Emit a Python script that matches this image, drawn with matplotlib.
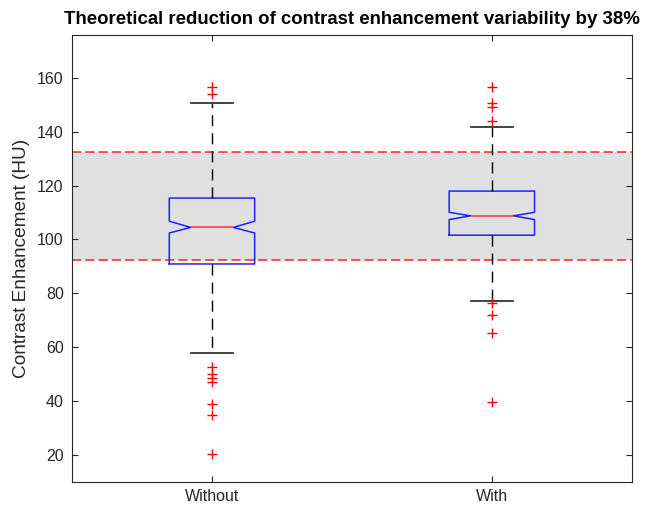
import matplotlib
matplotlib.use('Agg')
import matplotlib.pyplot as plt

plt.rcParams['font.family'] = ['Liberation Sans', 'DejaVu Sans']

# box statistics (HU)
groups = ['Without', 'With']
medians = [104.5, 108.8]
q1 = [90.9, 101.6]
q3 = [115.4, 118.0]
notch_lo = [102.4, 107.4]
notch_hi = [106.8, 110.1]
whisker_lo = [57.9, 77.0]
whisker_hi = [150.6, 141.8]
fliers_without = [156.7, 153.9, 52.5, 50.0, 48.5, 47.0, 38.8, 34.7, 20.2]
fliers_with = [156.7, 150.7, 149.1, 143.9, 76.3, 71.8, 65.2, 39.6]
band_lo, band_hi = 92.5, 132.5

fliers = [fliers_without, fliers_with]
stats = []
for i, g in enumerate(groups):
    stats.append(dict(label=g, med=medians[i], q1=q1[i], q3=q3[i],
                      cilo=notch_lo[i], cihi=notch_hi[i],
                      whislo=whisker_lo[i], whishi=whisker_hi[i],
                      fliers=fliers[i]))

fig = plt.figure(figsize=(6.46, 5.08), dpi=100)
ax = fig.add_axes([0.1115, 0.052, 0.8665, 0.879])

ax.axhspan(band_lo, band_hi, color='#e0e0e0', lw=0, zorder=0)
for yv in (band_lo, band_hi):
    ax.axhline(yv, color='#ff2020', lw=1.1, ls=(0, (6, 2.7)), zorder=1)

ax.bxp(stats, positions=[1, 2], widths=0.305, shownotches=True,
       boxprops=dict(color='#2020ff', lw=1.1),
       medianprops=dict(color='#ff3030', lw=1.1),
       whiskerprops=dict(color='black', lw=1.0, ls=(0, (8, 5))),
       capprops=dict(color='#333333', lw=1.3),
       flierprops=dict(marker='+', markeredgecolor='red', markersize=7.5, mew=1.0),
       capwidths=0.15, manage_ticks=False)

ax.set_xlim(0.5, 2.5)
ax.set_ylim(10, 176)
ax.set_xticks([1, 2])
ax.set_xticklabels(groups)
ax.set_yticks(range(20, 161, 20))
ax.tick_params(direction='in', top=True, right=True, length=4, labelsize=11.5,
               colors='#262626', pad=6)
ax.tick_params(axis='x', pad=5)
for s in ax.spines.values():
    s.set_color('#262626')
    s.set_linewidth(0.8)
ax.set_ylabel('Contrast Enhancement (HU)', fontsize=13.7, color='#262626', labelpad=5)
ax.set_title('Theoretical reduction of contrast enhancement variability by 38%',
             fontsize=13.4, fontweight='bold', pad=8)

fig.savefig('out.png')
